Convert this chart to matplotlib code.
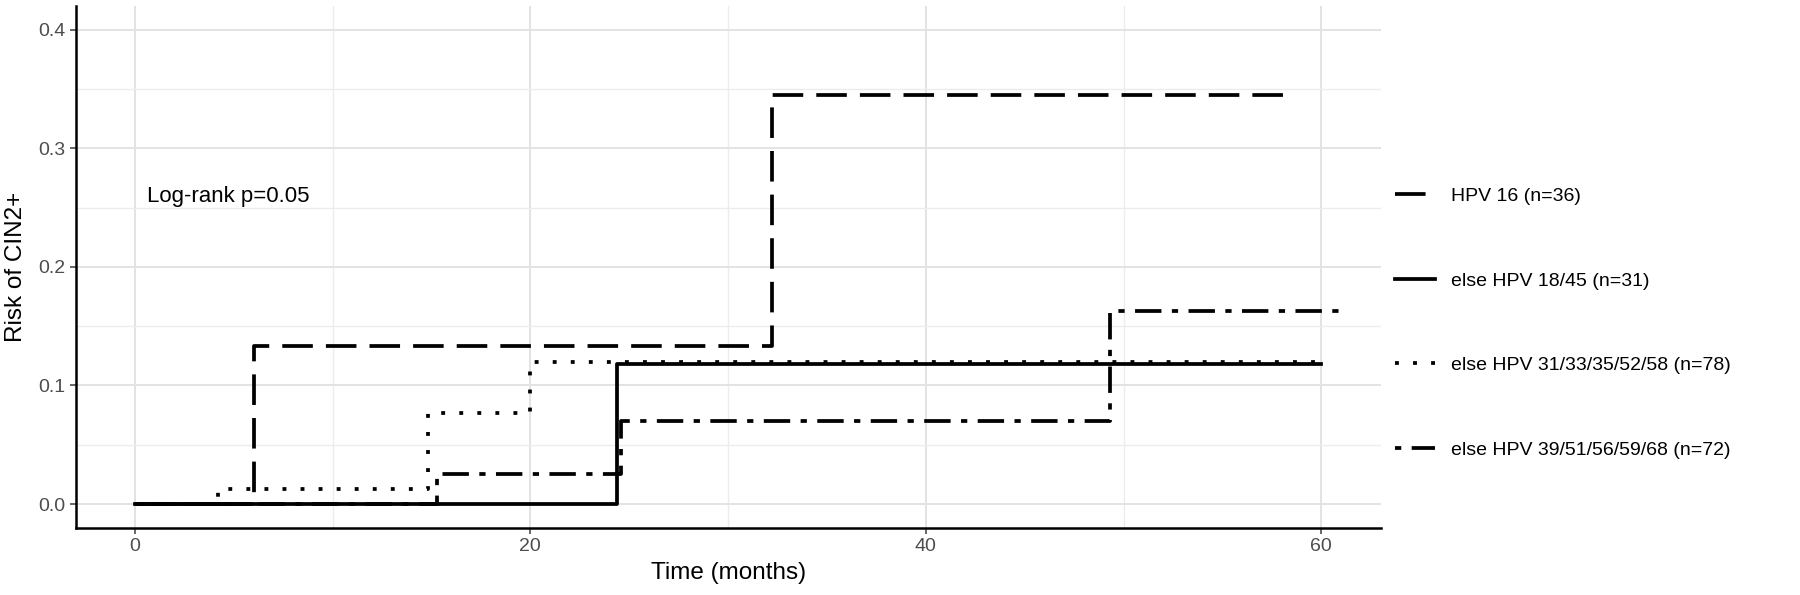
import matplotlib
matplotlib.use("Agg")
import matplotlib.pyplot as plt
from matplotlib.ticker import MultipleLocator

# step curves
hpv16_t = [0, 6.0, 32.2, 58.3]
hpv16_r = [0, 0.133, 0.345, 0.345]
hpv18_t = [0, 24.4, 60.0]
hpv18_r = [0, 0.118, 0.118]
hpv31_t = [0, 4.2, 14.8, 20.0, 59.9]
hpv31_r = [0, 0.013, 0.077, 0.120, 0.120]
hpv39_t = [0, 15.3, 24.6, 49.3, 60.9]
hpv39_r = [0, 0.025, 0.070, 0.163, 0.163]

labels = ["HPV 16 (n=36)", "else HPV 18/45 (n=31)",
          "else HPV 31/33/35/52/58 (n=78)", "else HPV 39/51/56/59/68 (n=72)"]
xticks = [0, 20, 40, 60]
yticks = [0.0, 0.1, 0.2, 0.3, 0.4]

plt.rcParams["font.family"] = ["Liberation Sans", "DejaVu Sans"]
plt.rcParams["lines.scale_dashes"] = False

fig = plt.figure(figsize=(18, 5.95), dpi=100)
ax = fig.add_subplot(1, 1, 1)
fig.subplots_adjust(left=0.042, right=0.767, bottom=0.113, top=0.99)

lw = 2.7
ax.step(hpv16_t, hpv16_r, where="post", color="black", lw=lw,
        linestyle=(0, (22, 9.4)), dash_capstyle="butt", label=labels[0])
ax.step(hpv18_t, hpv18_r, where="post", color="black", lw=lw,
        linestyle="-", label=labels[1])
ax.step(hpv31_t, hpv31_r, where="post", color="black", lw=lw,
        linestyle=(0, (2.8, 10.2)), dash_capstyle="butt", label=labels[2])
ax.step(hpv39_t, hpv39_r, where="post", color="black", lw=lw,
        linestyle=(0, (4.5, 7.5, 19, 7.5)), dash_capstyle="butt", label=labels[3])

ax.text(0.6, 0.259, "Log-rank p=0.05", fontsize=16, ha="left", va="center")

ax.set_xlim(-3, 63)
ax.set_ylim(-0.02, 0.42)
ax.set_xticks(xticks)
ax.set_yticks(yticks)
ax.set_yticklabels([f"{v:.1f}" for v in yticks])
ax.xaxis.set_minor_locator(MultipleLocator(10))
ax.yaxis.set_minor_locator(MultipleLocator(0.05))
ax.grid(which="major", color="#E3E3E3", lw=1.4)
ax.grid(which="minor", color="#ECECEC", lw=1.0)
ax.set_axisbelow(True)
ax.tick_params(which="minor", length=0)
ax.tick_params(which="major", colors="#4D4D4D", labelsize=14, length=4, width=1.2)

for s in ["top", "right"]:
    ax.spines[s].set_visible(False)
for s in ["left", "bottom"]:
    ax.spines[s].set_linewidth(1.8)
    ax.spines[s].set_color("black")

ax.set_xlabel("Time (months)", fontsize=17.5, labelpad=5)
ax.set_ylabel("Risk of CIN2+", fontsize=17.5, labelpad=8)

ax.legend(loc="center left", bbox_to_anchor=(0.765, 0.457), bbox_transform=fig.transFigure,
          frameon=False, fontsize=14, handlelength=2.1, handletextpad=0.8,
          labelspacing=3.45)

plt.savefig("out.png", dpi=100)
